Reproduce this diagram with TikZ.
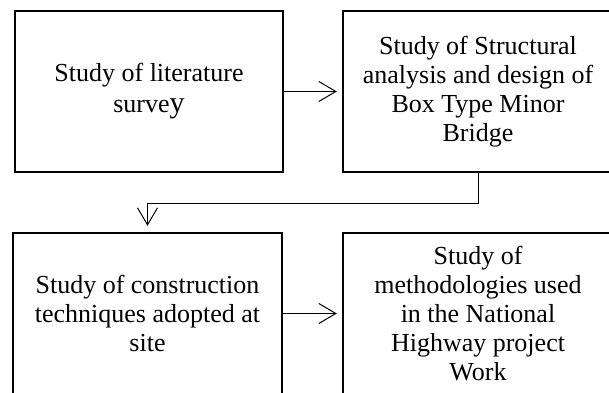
\documentclass[tikz,border=0pt]{standalone}
\usepackage{fontspec}
\setmainfont{Liberation Serif}
\usetikzlibrary{arrows.meta}
\begin{document}
\begin{tikzpicture}[x=1pt,y=1pt,
  box/.style={draw=black, line width=2.4pt, minimum width=269pt, minimum height=161pt,
    inner sep=0pt, align=center, font=\fontsize{26}{29}\selectfont},
  conn/.style={draw=black, line width=1pt, -{Straight Barb[length=17pt,width=20pt,line width=1pt]}}]
\useasboundingbox (0,0) rectangle (609,392);
\node[box, minimum width=268pt, font=\fontsize{26}{31}\selectfont] (b1) at (149,300.5) {Study of literature\\surve{\fontsize{30}{31}\selectfont y}};
\node[box, minimum width=270pt] (b2) at (478,300.5) {Study of Structural\\analysis and design of\\Box Type Minor\\Bridge};
\node[box] (b3) at (147.5,78.5) {Study of construction\\techniques adopted at\\site};
\node[box, minimum width=270pt] (b4) at (478,78.5) {Study of\\methodologies used\\in the National\\Highway project\\Work};
\coordinate (k1) at (478,189);
\coordinate (k2) at (147.5,189);
\draw[conn, shorten >=5pt] (b1.east) -- (b2.west);
\draw[conn, shorten >=6pt] (b2.south) -- (k1) -- (k2) -- (b3.north);
\draw[conn, shorten >=5pt] (b3.east) -- (b4.west);
\end{tikzpicture}
\end{document}
